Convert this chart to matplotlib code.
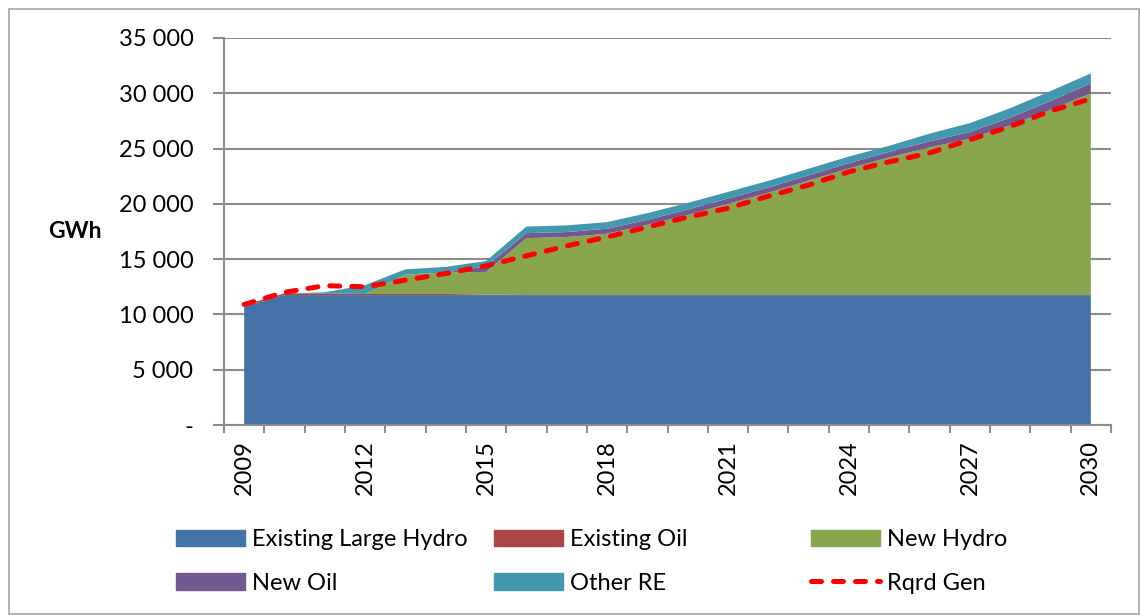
import matplotlib
matplotlib.use("Agg")
import matplotlib.pyplot as plt
from matplotlib.patches import Rectangle, Patch
from matplotlib.lines import Line2D
import numpy as np

years = list(range(2009, 2031))
existing_large_hydro = [10700] + [11750] * 21
existing_oil = [150, 150, 150, 100, 100, 100, 50] + [0] * 15
new_hydro = [0, 0, 0, 0, 1750, 1950, 2050, 5150, 5250, 5550, 6350, 7250,
             8250, 9250, 10350, 11450, 12450, 13350, 14150, 15350, 16750, 18250]
new_oil = [0, 0, 0, 0, 0, 0, 480, 450, 450, 450, 460, 480,
           480, 480, 480, 480, 500, 550, 600, 700, 800, 900]
other_re = [0, 0, 100, 800, 480, 500, 500, 600, 600, 600, 600, 600,
            600, 600, 600, 600, 550, 700, 800, 850, 900, 900]
rqrd_gen = [10900, 12000, 12600, 12500, 13100, 13700, 14400, 15300, 16200, 17000,
            17900, 18800, 19600, 20700, 21700, 22900, 23800, 24600, 25800, 27000,
            28400, 29500]
series_names = ["Existing Large Hydro", "Existing Oil", "New Hydro", "New Oil", "Other RE"]
colors = ["#4572A7", "#AA4643", "#89A54E", "#71588F", "#4198AF"]

plt.rcParams['font.family'] = ['Lato', 'DejaVu Sans']

fig = plt.figure(figsize=(11.4, 6.15), dpi=100)
fig.patches.append(Rectangle((9/1140, 0.002), 1 - 10/1140, 1 - 9/615 - 0.002,
                             transform=fig.transFigure, fill=False,
                             edgecolor="#A6A6A6", linewidth=1.2))
ax = fig.add_axes([224/1140, 1 - 425/615, (1111 - 224)/1140, (425 - 38)/615])

x = np.arange(len(years))
ax.stackplot(x, existing_large_hydro, existing_oil, new_hydro, new_oil, other_re,
             colors=colors, linewidth=0)
dash = (0, (2.0, 2.4))
ax.plot(x, rqrd_gen, color="#FF0000", linewidth=3.6, linestyle=dash,
        dash_capstyle="round", zorder=5)

ax.set_xlim(-0.5, len(years) - 0.5)
ax.set_ylim(0, 35000)
yt = np.arange(0, 35001, 5000)
ax.set_yticks(yt)
ax.set_yticklabels(["-" if v == 0 else f"{v:,}".replace(",", " ") for v in yt])
ax.yaxis.grid(True, color="#8C8C8C", linewidth=1.5)
ax.set_axisbelow(True)
for s in ["top", "right"]:
    ax.spines[s].set_visible(False)
for s in ["left", "bottom"]:
    ax.spines[s].set_color("#8C8C8C")
    ax.spines[s].set_linewidth(1.5)
ax.tick_params(axis="y", length=8, width=1.5, color="#8C8C8C", labelsize=17, pad=14)

ax.set_xticks(np.arange(-0.5, len(years), 1.0), minor=True)
ax.set_xticks(x[::3])
ax.set_xticklabels([str(y) for y in years[::3]], rotation=90)
ax.tick_params(axis="x", which="major", length=0, labelsize=17, pad=11)
ax.tick_params(axis="x", which="minor", length=6, width=1.5, color="#8C8C8C")

fig.text(75/1140, 1 - 232/615, "GWh", fontsize=16.5, fontweight="bold",
         ha="center", va="center")

handles = [Patch(color=c) for c in colors] + \
          [Line2D([], [], color="#FF0000", linewidth=3.6, linestyle=dash,
                  dash_capstyle="round")]
labels = series_names + ["Rqrd Gen"]
cols = [(0, 3), (1, 4), (2, 5)]
xpos = [169, 487, 804]
for (i, j), xp in zip(cols, xpos):
    fig.legend([handles[i], handles[j]], [labels[i], labels[j]],
               loc="upper left", bbox_to_anchor=(xp/1140, 1 - 522/615),
               frameon=False, fontsize=17, handlelength=2.9, handleheight=0.7,
               handletextpad=0.3, labelspacing=0.95, borderaxespad=0, borderpad=0.3)

fig.savefig("out.png", dpi=100)
